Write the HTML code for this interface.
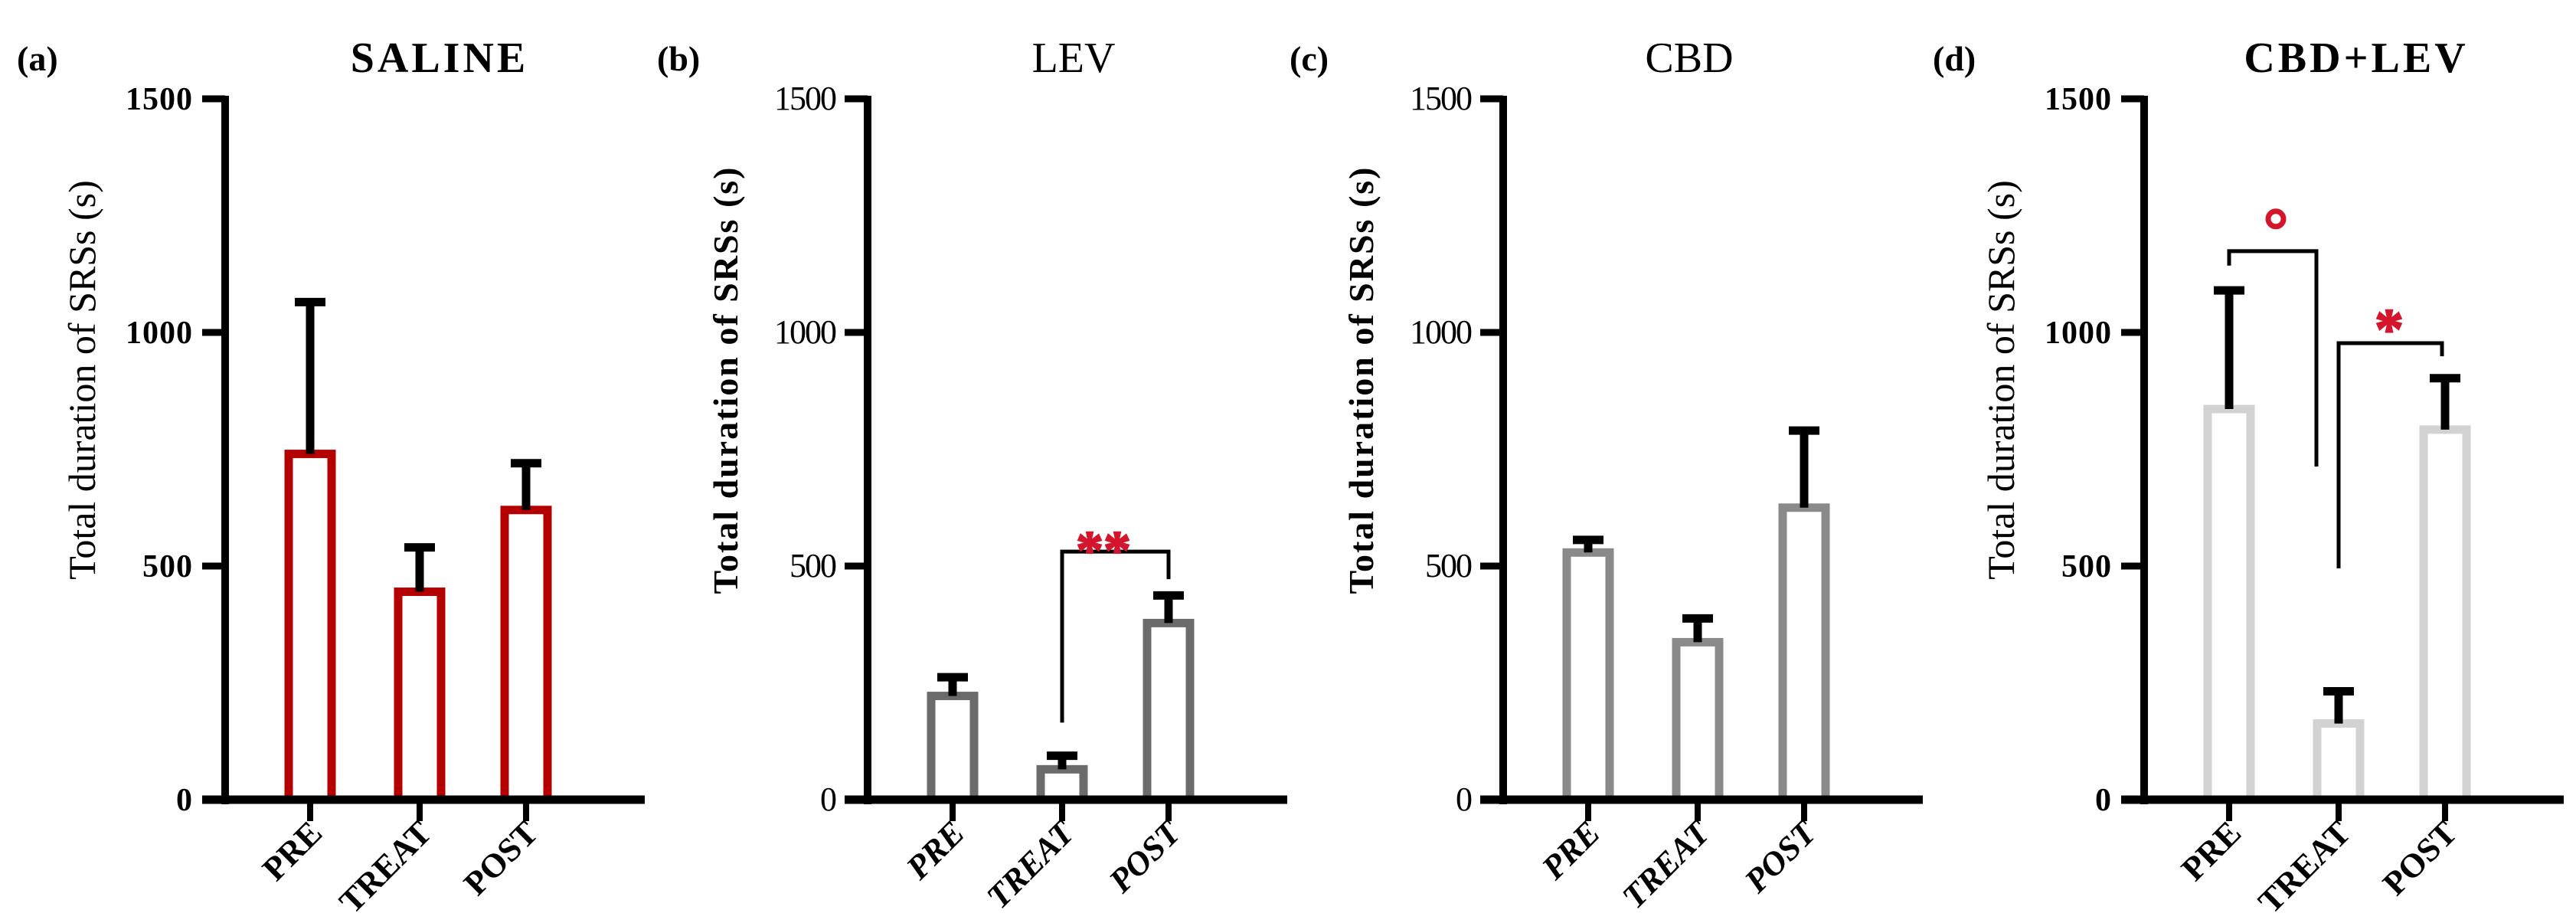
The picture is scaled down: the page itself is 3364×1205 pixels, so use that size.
<!DOCTYPE html>
<html><head><meta charset="utf-8">
<style>
html,body{margin:0;padding:0;background:#fff;overflow:hidden;}
svg{display:block;}
</style></head>
<body>
<svg id="fig" width="3364" height="1205" viewBox="0 0 3364 1205" xmlns="http://www.w3.org/2000/svg"></svg>
<script>
const categories = ["PRE", "TREAT", "POST"];
const panelTitles = ["SALINE", "LEV", "CBD", "CBD+LEV"];
const panelLetters = ["(a)", "(b)", "(c)", "(d)"];
const salineMeans = [740, 445, 620];
const salineErrors = [1065, 540, 720];
const levMeans = [222, 65, 378];
const levErrors = [262, 94, 437];
const cbdMeans = [529, 337, 625];
const cbdErrors = [556, 388, 790];
const cbdLevMeans = [836, 163, 792];
const cbdLevErrors = [1090, 232, 902];
const yTicks = [0, 500, 1000, 1500];

const NS = "http://www.w3.org/2000/svg";
const svg = document.getElementById("fig");
const Y0 = 1044, Y1500 = 129;
function yScale(v){ return Y0 - v * (Y0 - Y1500) / 1500; }
const catOffsets = [111, 254, 393];
function mk(tag, attrs, parent){
  const e = document.createElementNS(NS, tag);
  for (const k in attrs) e.setAttribute(k, attrs[k]);
  (parent || svg).appendChild(e);
  return e;
}
const panels = [
  {ax:294, means:salineMeans, errs:salineErrors, color:"#b40000", titleX:574, letterX:22, bold:true, italic:false},
  {ax:1133, means:levMeans, errs:levErrors, color:"#6b6b6b", titleX:1402, letterX:858, bold:false, italic:true},
  {ax:1963, means:cbdMeans, errs:cbdErrors, color:"#8a8a8a", titleX:2206, letterX:1684, bold:false, italic:true},
  {ax:2800, means:cbdLevMeans, errs:cbdLevErrors, color:"#d2d2d2", titleX:3077, letterX:2524, bold:true, italic:false}
];
const serif = '"Liberation Serif", serif';

panels.forEach((p, pi) => {
  const g = mk("g", {});
  
  
  const lt = mk("text", {x:p.letterX, y:92, "font-family":serif, "font-size":46, "font-weight":"bold"}, g);
  lt.textContent = panelLetters[pi];
  
  
  const tt = mk("text", {x:p.titleX, y:94, "text-anchor":"middle", "font-family":serif, "font-size":56, "font-weight":p.bold?"bold":"normal", "letter-spacing":p.bold?4:0}, g);
  tt.textContent = panelTitles[pi];
  
  
  const yl = mk("text", {x:0, y:0, transform:`translate(${p.ax-170},496) rotate(-90)`, "text-anchor":"middle", "font-family":serif, "font-size":p.bold?50:46, "font-weight":p.bold?"normal":"bold", "letter-spacing":p.bold?0:2}, g);
  yl.textContent = "Total duration of SRSs (s)";
  
  
  p.means.forEach((v, i) => {
    const cx = p.ax + catOffsets[i];
    const r = mk("rect", {x:cx-28, y:yScale(v), width:56, height:Y0-yScale(v), fill:"#fff", stroke:p.color, "stroke-width":11}, g);
    
    
    const eb = mk("path", {d:`M${cx} ${yScale(v)} V${yScale(p.errs[i])} M${cx-20} ${yScale(p.errs[i])} H${cx+20}`, stroke:"#000", "stroke-width":11, fill:"none"}, g);
    
    
    const tk = mk("line", {x1:cx, y1:Y0, x2:cx, y2:1072, stroke:"#000", "stroke-width":8}, g);
    
    
    const xl = mk("text", {x:0, y:0, transform:`translate(${cx+18},1090) rotate(-45)`, "text-anchor":"end", "font-family":serif, "font-size":44, "font-weight":"bold", "font-style":p.italic?"italic":"normal"}, g);
    xl.textContent = categories[i];
    
    
  });
  const ya = mk("line", {x1:p.ax, y1:Y1500-4, x2:p.ax, y2:Y0+6, stroke:"#000", "stroke-width":10}, g);
  
  
  const xa = mk("line", {x1:p.ax-30, y1:Y0, x2:p.ax+548, y2:Y0, stroke:"#000", "stroke-width":11}, g);
  
  
  yTicks.forEach(t => {
    const tl = mk("line", {x1:p.ax-30, y1:yScale(t), x2:p.ax, y2:yScale(t), stroke:"#000", "stroke-width":9}, g);
    
    
    const tx = mk("text", {x:p.ax-42, y:yScale(t)+14, "text-anchor":"end", "font-family":serif, "font-size":p.bold?42:44, "font-weight":p.bold?"bold":"normal", "letter-spacing":p.bold?1:-2}, g);
    tx.textContent = t;
    
    
  });
});

function bracket(x1, yTop1, x2, yTop2, yTop, name){
  const b = mk("path", {d:`M${x1} ${yScale(yTop1)} V${yScale(yTop)} H${x2} V${yScale(yTop2)}`, stroke:"#000", "stroke-width":5, fill:"none"});
  
  
}
function star(label, lx, v, size, name){
  const t = mk("text", {x:lx, y:yScale(v)+size*0.6, "text-anchor":"middle", "font-family":serif, "font-size":size, "font-weight":"bold", fill:"#d4162c", stroke:"#d4162c", "stroke-width":2});
  t.textContent = label;
  
  
}
bracket(1133+254, 165, 1133+393, 472, 531, 'lev-significance-bracket');
star("**", 1441, 565, 72, 'lev-significance-label');
bracket(2800+111, 1143, 3025, 713, 1174, 'cbdlev-pre-treat-bracket');
const ring = mk("circle", {cx:2972, cy:yScale(1243), r:10, fill:"none", stroke:"#d4162c", "stroke-width":7});


bracket(2800+254, 495, 2800+389, 949, 977, 'cbdlev-treat-post-bracket');
star("*", 3120, 1040, 76, 'cbdlev-treat-post-label');
</script>
</body></html>
